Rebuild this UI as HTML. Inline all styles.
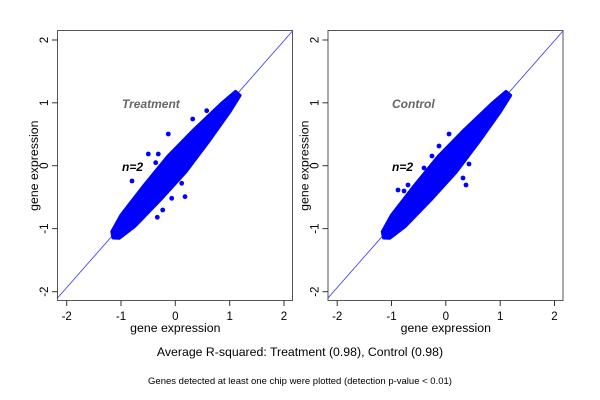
<!DOCTYPE html>
<html><head><meta charset="utf-8"><style>
html,body{margin:0;padding:0;background:#fff;}
svg{display:block;font-family:"Liberation Sans",sans-serif;}
</style></head><body>
<svg width="600" height="400" viewBox="0 0 600 400">
<defs>
<g id="panel">
  <rect x="57.5" y="30.5" width="235" height="270" fill="none" stroke="#555" stroke-width="1"/>
  <line x1="57.5" y1="298" x2="292.5" y2="31" stroke="#3333ff" stroke-width="0.8"/>
  <g stroke="#333" stroke-width="1">
    <line x1="66.7" y1="300.5" x2="66.7" y2="306"/>
    <line x1="121" y1="300.5" x2="121" y2="306"/>
    <line x1="175.3" y1="300.5" x2="175.3" y2="306"/>
    <line x1="229.7" y1="300.5" x2="229.7" y2="306"/>
    <line x1="284" y1="300.5" x2="284" y2="306"/>
    <line x1="57.5" y1="40" x2="52" y2="40"/>
    <line x1="57.5" y1="102.8" x2="52" y2="102.8"/>
    <line x1="57.5" y1="165.7" x2="52" y2="165.7"/>
    <line x1="57.5" y1="228.6" x2="52" y2="228.6"/>
    <line x1="57.5" y1="291.7" x2="52" y2="291.7"/>
  </g>
  <g font-size="11.5" fill="#000" text-anchor="middle">
    <text x="66.7" y="320">-2</text>
    <text x="121" y="320">-1</text>
    <text x="175.3" y="320">0</text>
    <text x="229.7" y="320">1</text>
    <text x="284" y="320">2</text>
    <text x="175.3" y="332" font-size="12.3">gene expression</text>
    <text transform="translate(48,40) rotate(-90)">2</text>
    <text transform="translate(48,102.8) rotate(-90)">1</text>
    <text transform="translate(48,165.7) rotate(-90)">0</text>
    <text transform="translate(48,228.6) rotate(-90)">-1</text>
    <text transform="translate(48,291.7) rotate(-90)">-2</text>
    <text transform="translate(38,165.7) rotate(-90)" font-size="12.3">gene expression</text>
  </g>
  <polygon fill="#0000ff" stroke="#0000ff" stroke-width="3" stroke-linejoin="round" points="111.8,231.6 121,215 144,185.3 167.6,156.4 193.9,129.6 221.1,103.7 235.5,91.4 240.1,95.4 230.1,111.5 208.3,142.1 185.8,172 160.6,199.7 134.6,226.6 119.4,238.2 113,238"/>
</g>
</defs>
<use href="#panel"/>
<use href="#panel" transform="translate(270.5,0)"/>
<g fill="#0000ff">
  <circle cx="168.3" cy="134" r="2.4"/><circle cx="192.7" cy="119" r="2.4"/><circle cx="206.7" cy="110.7" r="2.4"/>
  <circle cx="148.3" cy="154" r="2.4"/><circle cx="158.3" cy="154" r="2.4"/><circle cx="155.7" cy="162.7" r="2.4"/>
  <circle cx="132" cy="181" r="2.4"/><circle cx="185" cy="196.7" r="2.4"/><circle cx="162.7" cy="210" r="2.4"/>
  <circle cx="157.3" cy="217.3" r="2.4"/><circle cx="171.7" cy="198.3" r="2.4"/><circle cx="181.7" cy="183.3" r="2.4"/>
  <circle cx="449" cy="134" r="2.4"/><circle cx="439" cy="146" r="2.4"/><circle cx="432" cy="156" r="2.4"/>
  <circle cx="469" cy="164" r="2.4"/><circle cx="463" cy="178" r="2.4"/><circle cx="466" cy="185" r="2.4"/>
  <circle cx="408" cy="185" r="2.4"/><circle cx="404" cy="191" r="2.4"/><circle cx="424" cy="168" r="2.4"/>
  <circle cx="398" cy="190" r="2.4"/>
</g>
<g font-size="12" font-weight="bold" font-style="italic">
  <text x="122" y="108" fill="#666">Treatment</text>
  <text x="122" y="171" fill="#000">n=2</text>
  <text x="392" y="108" fill="#666">Control</text>
  <text x="392" y="171" fill="#000">n=2</text>
</g>
<text x="300" y="356" font-size="12.3" text-anchor="middle">Average R-squared: Treatment (0.98), Control (0.98)</text>
<text x="300" y="384" font-size="9.5" text-anchor="middle">Genes detected at least one chip were plotted (detection p-value &lt; 0.01)</text>
</svg>
</body></html>
